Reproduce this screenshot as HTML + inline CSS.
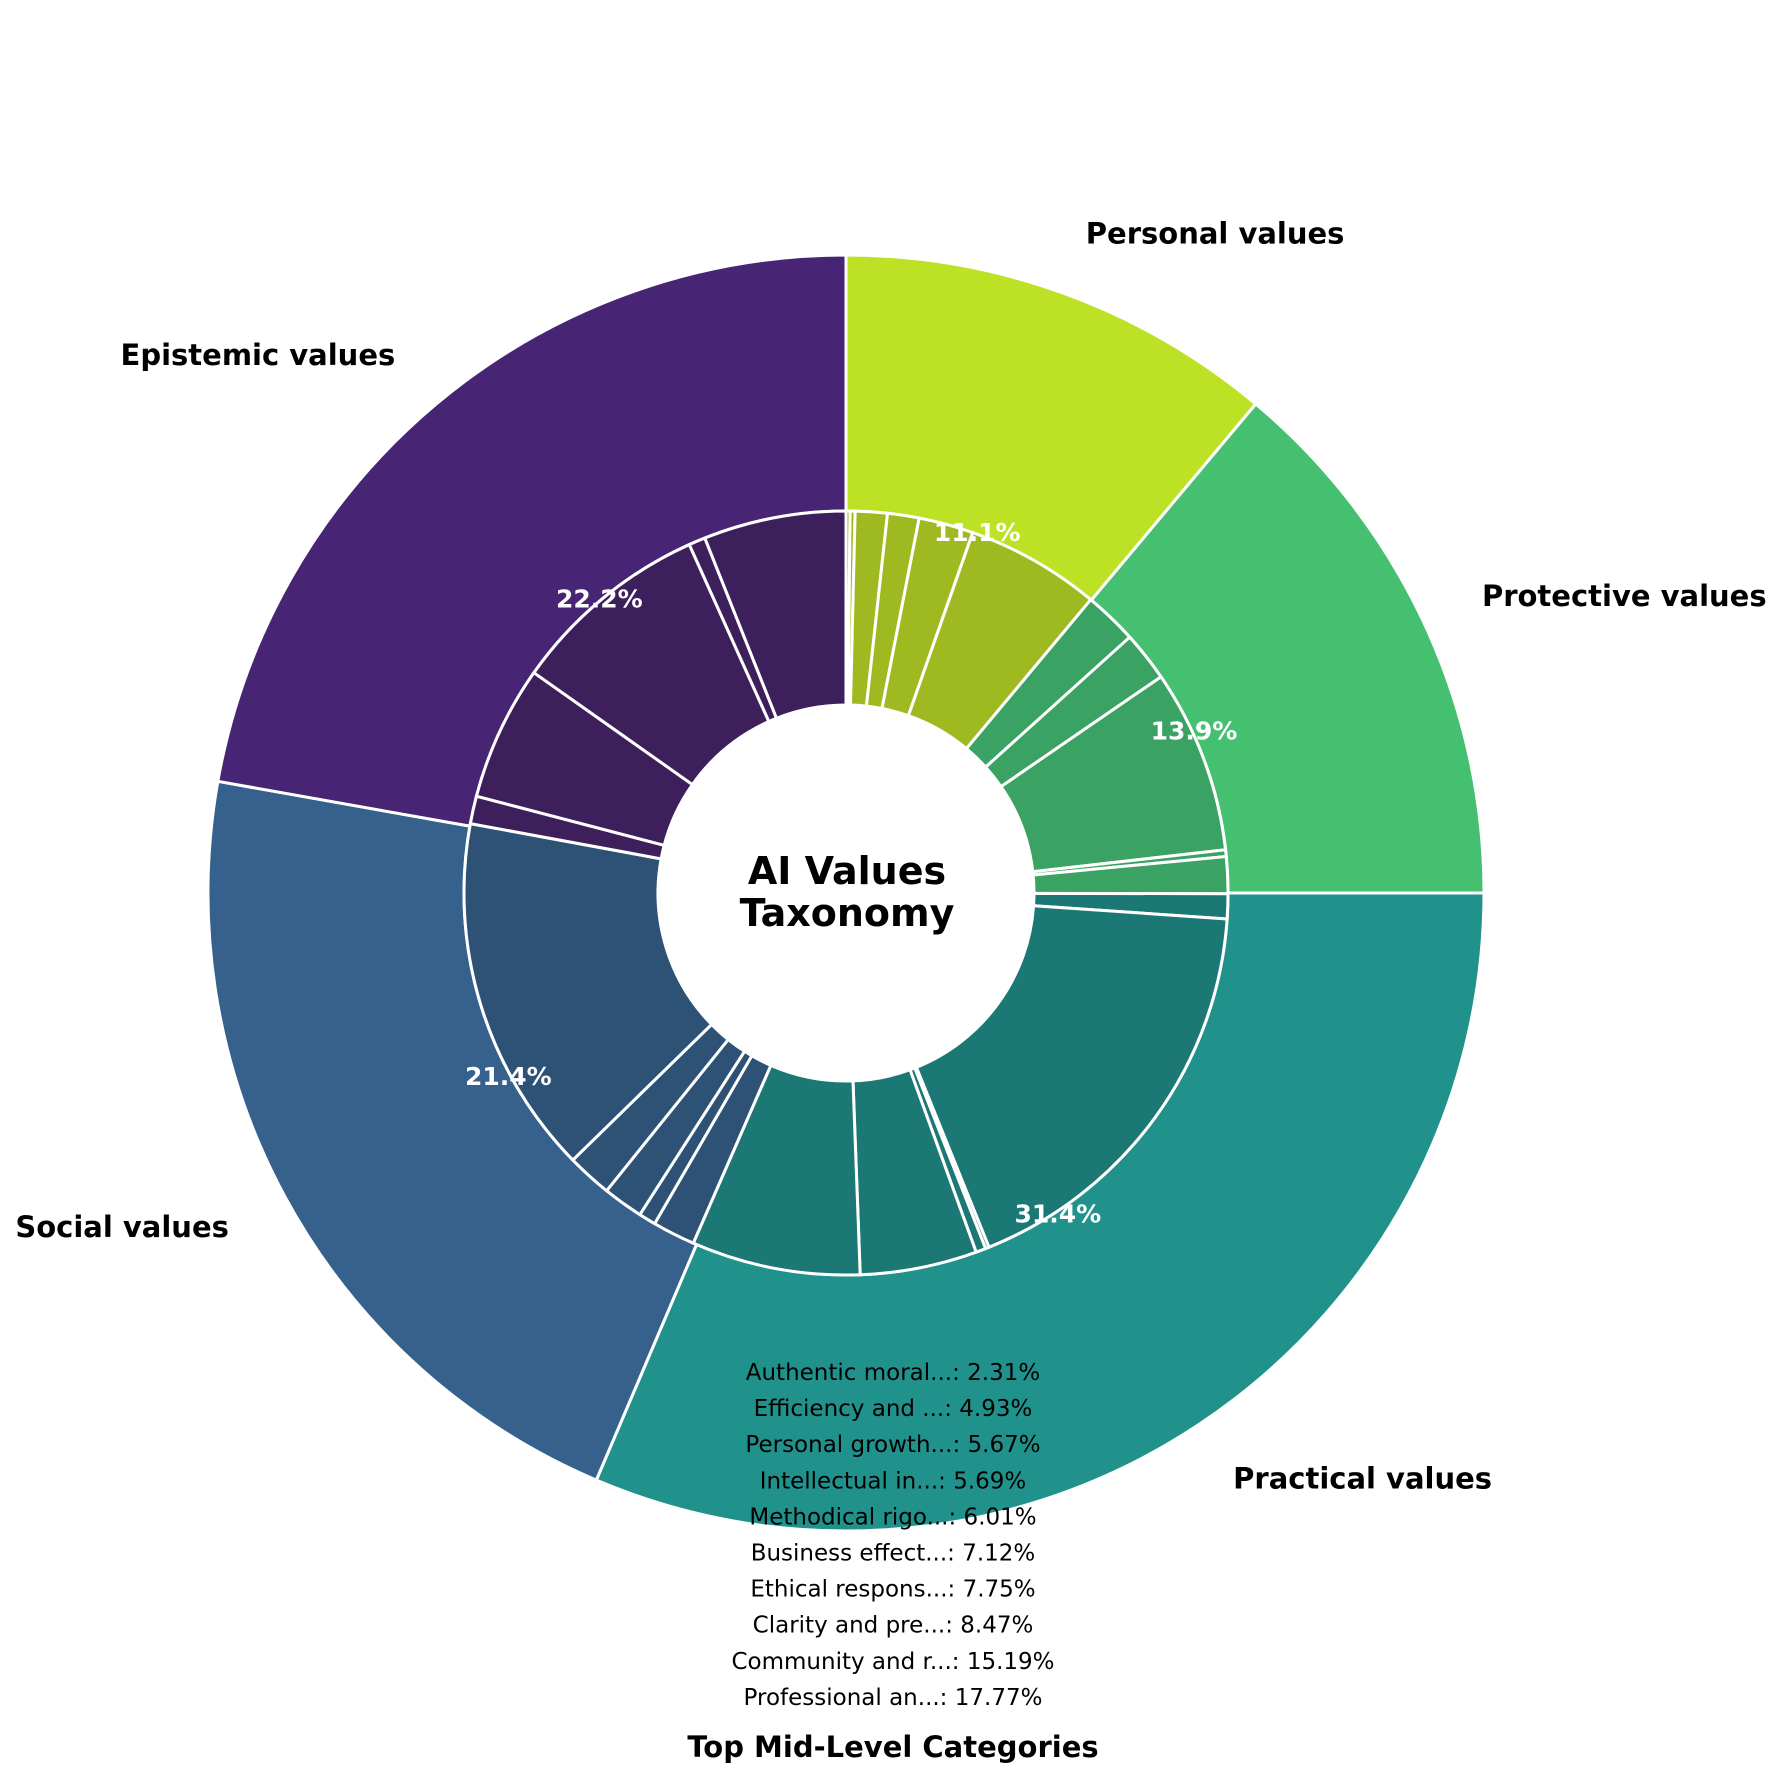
<!DOCTYPE html>
<html><head><meta charset="utf-8"><style>
html,body{margin:0;padding:0;background:#fff;}
svg{display:block;font-family:"DejaVu Sans","Liberation Sans",sans-serif;}
</style></head><body>
<svg id="chart" width="1782" height="1785" viewBox="0 0 1782 1785" xmlns="http://www.w3.org/2000/svg">
<g id="outer"></g>
<g id="inner"></g>
<g id="labels"></g>
<text x="847" y="884" text-anchor="middle" font-size="38" font-weight="bold">AI Values</text>
<text x="847" y="926" text-anchor="middle" font-size="38" font-weight="bold">Taxonomy</text>
<g id="list"></g>
<text x="893" y="1757" text-anchor="middle" font-size="29" font-weight="bold">Top Mid-Level Categories</text>
</svg>
<script>
const groups = ["Personal values","Protective values","Practical values","Social values","Epistemic values"];
const groupValues = [11.1, 13.9, 31.4, 21.4, 22.2];
const groupPct = ["11.1%","13.9%","31.4%","21.4%","22.2%"];
const subGroupIndex = [0,0,0,0,0,0, 1,1,1,1,1, 2,2,2,2,2,2, 3,3,3,3,3, 4,4,4,4,4];
const subValues = [0.17,0.21,1.35,1.33,2.31,5.67, 2.25,2.1,7.75,0.28,1.55, 1.05,17.77,0.15,0.42,4.93,7.12, 1.8,0.72,1.7,1.9,15.19, 1.17,5.69,8.47,0.7,6.01];
const topNames = ["Authentic moral...","Efficiency and ...","Personal growth...","Intellectual in...","Methodical rigo...","Business effect...","Ethical respons...","Clarity and pre...","Community and r...","Professional an..."];
const topValues = [2.31,4.93,5.67,5.69,6.01,7.12,7.75,8.47,15.19,17.77];

const outerColors = ["#bde125","#45bf70","#21918c","#35618c","#472574"];
const innerColors = ["#9fba21","#3aa262","#1b7874","#2d5275","#3d1f5c"];
const NS="http://www.w3.org/2000/svg";
const cx=846, cy=893, R0=638, R1=382, R2=188;
function pt(r,a){const t=a*Math.PI/180;return [cx+r*Math.sin(t), cy-r*Math.cos(t)];}
function wedge(r1,r2,a0,a1){
  const large=(a1-a0)>180?1:0;
  const p0=pt(r1,a0),p1=pt(r1,a1),p2=pt(r2,a1),p3=pt(r2,a0);
  return `M${p0[0]},${p0[1]} A${r1},${r1} 0 ${large} 1 ${p1[0]},${p1[1]} L${p2[0]},${p2[1]} A${r2},${r2} 0 ${large} 0 ${p3[0]},${p3[1]} Z`;
}
const outerG=document.getElementById('outer'), innerG=document.getElementById('inner'), labG=document.getElementById('labels'), listG=document.getElementById('list');
const gTot=groupValues.reduce((a,b)=>a+b,0);
let acc=0;
groupValues.forEach((v,i)=>{
  const a0=acc/gTot*360, a1=(acc+v)/gTot*360; acc+=v;
  const p=document.createElementNS(NS,'path');
  p.setAttribute('d',wedge(R0,R1,a0,a1));
  p.setAttribute('fill',outerColors[i]);p.setAttribute('stroke','#fff');p.setAttribute('stroke-width','3');
  
  
  outerG.appendChild(p);
  const mid=(a0+a1)/2;
  const lp=pt(R0*1.1,mid);
  const t=document.createElementNS(NS,'text');
  t.setAttribute('x',lp[0]);t.setAttribute('y',lp[1]+10);
  t.setAttribute('text-anchor',lp[0]>=cx?'start':'end');
  t.setAttribute('font-size','29');t.setAttribute('font-weight','bold');
  t.textContent=groups[i];
  
  
  labG.appendChild(t);
  const pp=pt(R1+2,mid);
  const t2=document.createElementNS(NS,'text');
  t2.setAttribute('x',pp[0]);t2.setAttribute('y',pp[1]+9);
  t2.setAttribute('text-anchor','middle');t2.setAttribute('fill','#fff');
  t2.setAttribute('font-size','25');t2.setAttribute('font-weight','bold');
  t2.textContent=groupPct[i];
  
  
  labG.appendChild(t2);
});
const sTot=subValues.reduce((a,b)=>a+b,0);
acc=0;
subValues.forEach((v,i)=>{
  const a0=acc/sTot*360, a1=(acc+v)/sTot*360; acc+=v;
  const p=document.createElementNS(NS,'path');
  p.setAttribute('d',wedge(R1,R2,a0,a1));
  p.setAttribute('fill',innerColors[subGroupIndex[i]]);p.setAttribute('stroke','#fff');p.setAttribute('stroke-width','3');
  
  
  innerG.appendChild(p);
});
topNames.forEach((n,i)=>{
  const t=document.createElementNS(NS,'text');
  t.setAttribute('x',893);t.setAttribute('y',1380+i*36.1);
  t.setAttribute('text-anchor','middle');t.setAttribute('font-size','23');
  t.textContent=n+': '+topValues[i].toFixed(2)+'%';
  
  
  listG.appendChild(t);
});
labG.parentNode.appendChild(listG);
</script>
</body></html>
